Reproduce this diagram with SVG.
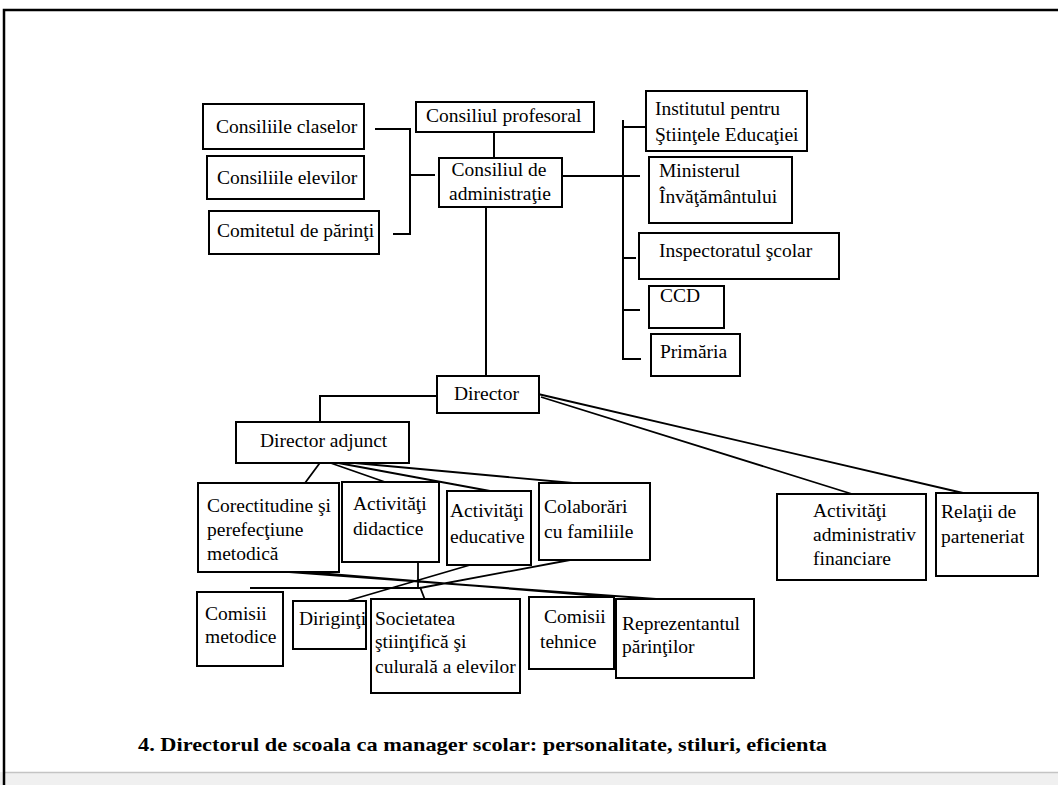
<svg xmlns="http://www.w3.org/2000/svg" width="1058" height="785" viewBox="0 0 1058 785">
<style>
.box{fill:#fff;stroke:#000;stroke-width:2}
.t{font-size:19.5px;fill:#000}
.c{fill:none;stroke:#000;stroke-width:2}
.title{font-size:19px;font-weight:bold;fill:#000}
</style>
<rect x="0" y="0" width="1058" height="785" fill="#fff"/>
<rect x="0" y="772" width="1058" height="13" fill="#f0f0f0"/>
<line x1="4" y1="772.5" x2="1058" y2="772.5" stroke="#c4c4c4" stroke-width="1.5"/>
<path d="M4,785 V10 H1058" fill="none" stroke="#000" stroke-width="2.5"/>

<g id="connectors" class="c">
<path d="M375,129 H410 V234 H393 M410,175 H435"/>
<path d="M494,132 V158"/>
<path d="M562,176 H640"/>
<path d="M623,120 V359 H641 M623,127 H645 M623,258 H636 M623,310 H640"/>
<path d="M486,207 V376"/>
<path d="M437,396 H320 V422"/>
<path d="M322,460 L305,483 M322,460 L385,482 M322,460 L490,491 M322,460 L573,483" stroke-width="1.8"/>
<path d="M538,394 L963,493 M541,397 L852,494" stroke-width="1.8"/>
<path d="M418,562 V587 M250,588 H420 M420,587 L425,600 M470,565 L347,601 M570,560 L420,588 M262,570 L656,599 M305,572 L613,597" stroke-width="1.8"/>
</g>

<g font-family="Liberation Serif, Tinos, Times New Roman, DejaVu Serif, serif">
<g id="n-claselor"><rect class="box" x="203" y="104" width="161" height="45"/><text class="t" x="216" y="133">Consiliile claselor</text></g>
<g id="n-elevilor"><rect class="box" x="207" y="156" width="157" height="43"/><text class="t" x="217" y="184">Consiliile elevilor</text></g>
<g id="n-parinti"><rect class="box" x="209" y="211" width="170" height="43"/><text class="t" x="217" y="237">Comitetul de părinţi</text></g>
<g id="n-profesoral"><rect class="box" x="416" y="102" width="178" height="30"/><text class="t" x="426" y="122">Consiliul profesoral</text></g>
<g id="n-admin"><rect class="box" x="439" y="158" width="123" height="49"/><text class="t" text-anchor="middle"><tspan x="499" y="176">Consiliul de</tspan><tspan x="500" y="200">administraţie</tspan></text></g>
<g id="n-ise"><rect class="box" x="646" y="91" width="161" height="60"/><text class="t"><tspan x="655" y="115">Institutul pentru</tspan><tspan x="655" y="141">Ştiinţele Educaţiei</tspan></text></g>
<g id="n-minister"><rect class="box" x="649" y="157" width="143" height="66"/><text class="t"><tspan x="659" y="177">Ministerul</tspan><tspan x="659" y="203">Învăţământului</tspan></text></g>
<g id="n-inspectorat"><rect class="box" x="639" y="233" width="200" height="46"/><text class="t" x="659" y="257">Inspectoratul şcolar</text></g>
<g id="n-ccd"><rect class="box" x="649" y="286" width="75" height="42"/><text class="t" x="660" y="302">CCD</text></g>
<g id="n-primaria"><rect class="box" x="651" y="334" width="89" height="42"/><text class="t" x="660" y="358">Primăria</text></g>
<g id="n-director"><rect class="box" x="437" y="376" width="102" height="37"/><text class="t" x="454" y="400">Director</text></g>
<g id="n-adjunct"><rect class="box" x="236" y="422" width="173" height="41"/><text class="t" x="260" y="447">Director adjunct</text></g>
<g id="n-corect"><rect class="box" x="198" y="483" width="141" height="89"/><text class="t"><tspan x="207" y="512">Corectitudine şi</tspan><tspan x="207" y="536">perefecţiune</tspan><tspan x="207" y="560">metodică</tspan></text></g>
<g id="n-didactice"><rect class="box" x="342" y="482" width="97" height="80"/><text class="t"><tspan x="353" y="510">Activităţi</tspan><tspan x="353" y="535">didactice</tspan></text></g>
<g id="n-educative"><rect class="box" x="447" y="491" width="84" height="74"/><text class="t"><tspan x="450" y="517">Activităţi</tspan><tspan x="450" y="543">educative</tspan></text></g>
<g id="n-colaborari"><rect class="box" x="539" y="483" width="111" height="77"/><text class="t"><tspan x="544" y="513">Colaborări</tspan><tspan x="544" y="538">cu familiile</tspan></text></g>
<g id="n-adminfin"><rect class="box" x="777" y="494" width="149" height="86"/><text class="t"><tspan x="813" y="517">Activităţi</tspan><tspan x="813" y="541">administrativ</tspan><tspan x="813" y="565">financiare</tspan></text></g>
<g id="n-relatii"><rect class="box" x="936" y="493" width="102" height="83"/><text class="t"><tspan x="941" y="518">Relaţii de</tspan><tspan x="941" y="543">parteneriat</tspan></text></g>
<g id="n-comisii-met"><rect class="box" x="197" y="592" width="86" height="74"/><text class="t"><tspan x="205" y="620">Comisii</tspan><tspan x="205" y="643">metodice</tspan></text></g>
<g id="n-diriginti"><rect class="box" x="293" y="601" width="73" height="48"/><text class="t" x="299" y="625">Diriginţi</text></g>
<g id="n-societatea"><rect class="box" x="371" y="599" width="149" height="94"/><text class="t"><tspan x="375" y="625">Societatea</tspan><tspan x="375" y="648">ştiinţifică şi</tspan><tspan x="375" y="673">culurală a elevilor</tspan></text></g>
<g id="n-comisii-teh"><rect class="box" x="529" y="597" width="85" height="72"/><text class="t"><tspan x="544" y="623">Comisii</tspan><tspan x="540" y="648">tehnice</tspan></text></g>
<g id="n-reprezentant"><rect class="box" x="616" y="599" width="138" height="79"/><text class="t"><tspan x="622" y="630">Reprezentantul</tspan><tspan x="622" y="653">părinţilor</tspan></text></g>

<text class="title" x="138" y="751" textLength="689" lengthAdjust="spacingAndGlyphs">4. Directorul de scoala ca manager scolar: personalitate, stiluri, eficienta</text>
</g>
</svg>
